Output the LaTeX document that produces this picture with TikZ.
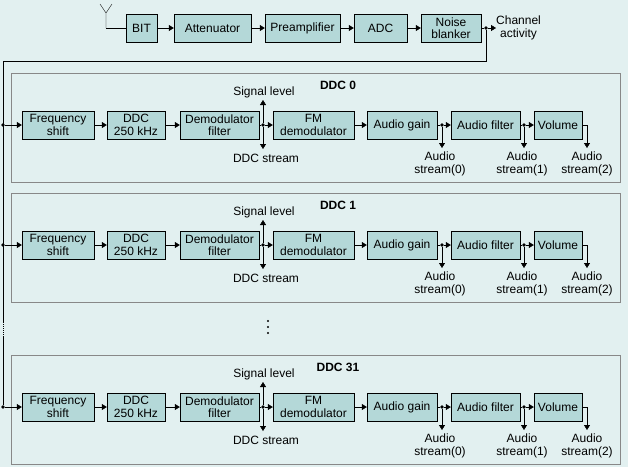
\documentclass[tikz,border=0pt]{standalone}
\usepackage{fontspec}
\setmainfont{Liberation Sans}
\usetikzlibrary{arrows.meta}
\definecolor{bg}{HTML}{E2F0F0}
\definecolor{bx}{HTML}{B4D8D8}
\definecolor{fr}{HTML}{888888}
\begin{document}
\begin{tikzpicture}[x=1pt,y=-1pt,font=\fontsize{12}{12.5}\selectfont,
  blk/.style={draw,fill=bx,inner sep=0,align=center,minimum height=28},
  arr/.style={-{Triangle[length=5,width=6]}},
  dot/.style={circle,fill,inner sep=1.3},
  lab/.style={align=center,inner sep=0},
  frame/.style={draw=fr,line width=1}]
\fill[bg] (0,0) rectangle (628,467);
\useasboundingbox (0,0) rectangle (628,467);
% top chain
\node[blk,minimum width=31] (bit) at (141.5,28) {BIT};
\node[blk,minimum width=77] (att) at (212.5,28) {Attenuator};
\node[blk,minimum width=75] (pre) at (302.5,28) {Preamplifier};
\node[blk,minimum width=53] (adc) at (380.5,28) {ADC};
\node[blk,minimum width=60] (nb) at (451,28) {Noise\\blanker};
\coordinate (ant) at (106,28);
\draw (ant) -- (bit.west);
\draw (106,28) -- (106,13) (100,4) -- (106,13) -- (112,4);
\draw[arr] (bit) -- (att); \draw[arr] (att) -- (pre);
\draw[arr] (pre) -- (adc); \draw[arr] (adc) -- (nb);
\node[dot] (nbd) at (486,28) {};
\node[lab,anchor=west] (ca) at (496,28) {Channel\\activity};
\draw (nb.east) -- (nbd); \draw[arr] (nbd) -- (ca.west);
\coordinate (c1) at (486,61); \coordinate (c2) at (3,61);
\coordinate (c3) at (3,322); \coordinate (c4) at (3,336);
\draw (nbd) -- (c1) -- (c2) -- (c3);
\draw[densely dotted,line width=1] (c3) -- (c4);
\foreach \d in {321,327,333} \fill (268,\d) circle (1.1);
\foreach \n/\f/\y in {0/73/125,1/193/245,31/355/407}{
  \draw[frame] (11,\f) rectangle (620,\f+109);
  \node[font=\fontsize{12}{12}\selectfont\bfseries] (t\n) at (338,\f+12) {DDC \n};
  \node[blk,minimum width=72] (fs\n) at (58,\y) {Frequency\\shift};
  \node[blk,minimum width=58] (dd\n) at (136,\y) {DDC\\250 kHz};
  \node[blk,minimum width=79] (df\n) at (219.5,\y) {Demodulator\\filter};
  \node[blk,minimum width=81] (fm\n) at (313.5,\y) {FM\\demodulator};
  \node[blk,minimum width=70] (ag\n) at (402,\y) {Audio gain};
  \node[blk,minimum width=69] (af\n) at (485.5,\y) {Audio filter};
  \node[blk,minimum width=48] (vo\n) at (558,\y) {Volume};
  \node[dot] (in\n) at (3,\y) {};
  \node[dot] (j1\n) at (263,\y) {};
  \node[dot] (j2\n) at (442,\y) {};
  \node[dot] (j3\n) at (524,\y) {};
  \coordinate (vc\n) at (587,\y);
  \node[lab] (sl\n) at (264,\y-33) {Signal level};
  \node[lab] (ds\n) at (266,\y+33) {DDC stream};
  \node[lab] (a0\n) at (440,\y+39) {Audio\\stream(0)};
  \node[lab] (a1\n) at (522,\y+39) {Audio\\stream(1)};
  \node[lab] (a2\n) at (587,\y+39) {Audio\\stream(2)};
  \draw[arr] (in\n) -- (fs\n);
  \draw[arr] (fs\n) -- (dd\n); \draw[arr] (dd\n) -- (df\n);
  \draw (df\n) -- (j1\n); \draw[arr] (j1\n) -- (fm\n);
  \draw[arr] (j1\n) -- ++(0,-25); \draw[arr] (j1\n) -- ++(0,24);
  \draw[arr] (fm\n) -- (ag\n);
  \draw (ag\n) -- (j2\n); \draw[arr] (j2\n) -- (af\n); \draw[arr] (j2\n) -- ++(0,23);
  \draw (af\n) -- (j3\n); \draw[arr] (j3\n) -- (vo\n); \draw[arr] (j3\n) -- ++(0,23);
  \draw[arr] (vo\n.east) -- (vc\n) -- ++(0,23);
}
\draw (in0) -- (in1);
\draw (c4) -- (in31);
\end{tikzpicture}
\end{document}
